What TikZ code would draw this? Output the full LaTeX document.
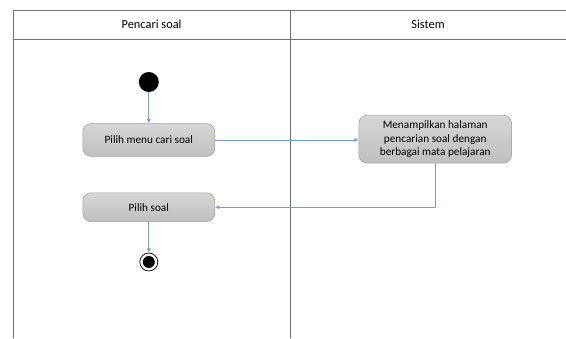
\documentclass[tikz,border=0pt]{standalone}
\usepackage{fontspec}
\setmainfont{Carlito}
\usepackage{xcolor}
\usepackage{tikz}
\usetikzlibrary{calc,arrows.meta,positioning}

\definecolor{flowblue}{HTML}{7A9AD0}
\definecolor{lanegray}{HTML}{707070}

\begin{document}
\begin{tikzpicture}[
  line cap=round,
  line join=round,
  >={Latex[length=3pt,width=3pt]},
  laneline/.style={lanegray,line width=0.7pt},
  flow/.style={flowblue,line width=0.6pt,->},
  activity/.style={draw=gray!75,rounded corners=6pt,top color=gray!32,
    bottom color=gray!50,align=center,font=\fontsize{8}{9.6}\selectfont,
    inner sep=2pt},
  startnode/.style={circle,fill=black,inner sep=0pt,minimum size=0.5cm},
  endnode/.style={circle,draw=black,fill=white,line width=0.5pt,
    inner sep=0pt,minimum size=0.45cm,
    path picture={\fill[black] (path picture bounding box.center) circle (0.15cm);}}
]
\path[use as bounding box] (0,0) rectangle (14.15,-8.45);

% swimlanes
\draw[laneline] (0.33,-8.45) -- (0.33,-0.25) -- (14.15,-0.25);
\draw[laneline] (0.33,-0.98) -- (14.15,-0.98);
\draw[laneline] (7.25,-0.25) -- (7.25,-8.45);
\node[font=\fontsize{8.8}{10}\selectfont] (laneA) at (3.79,-0.6) {Pencari soal};
\node[font=\fontsize{8.8}{10}\selectfont] (laneB) at (10.7,-0.6) {Sistem};

% nodes
\node[startnode] (start) at (3.72,-2.05) {};
\node[activity,minimum width=3.3cm,minimum height=0.82cm] (menu) at (3.72,-3.5)
  {Pilih menu cari soal};
\node[activity,minimum width=3.82cm,minimum height=1.2cm] (tampil) at (10.88,-3.48)
  {Menampilkan halaman\\pencarian soal dengan\\berbagai mata pelajaran};
\node[activity,minimum width=3.3cm,minimum height=0.72cm] (pilih) at (3.72,-5.18)
  {Pilih soal};
\node[endnode] (finish) at (3.72,-6.55) {};

% flows
\draw[flow] (start) -- (menu);
\draw[flow] (menu.east) -- (menu.east -| tampil.west);
\draw[flow] (tampil.south) |- (pilih.east);
\draw[flow] (pilih) -- (finish);
\end{tikzpicture}
\end{document}
